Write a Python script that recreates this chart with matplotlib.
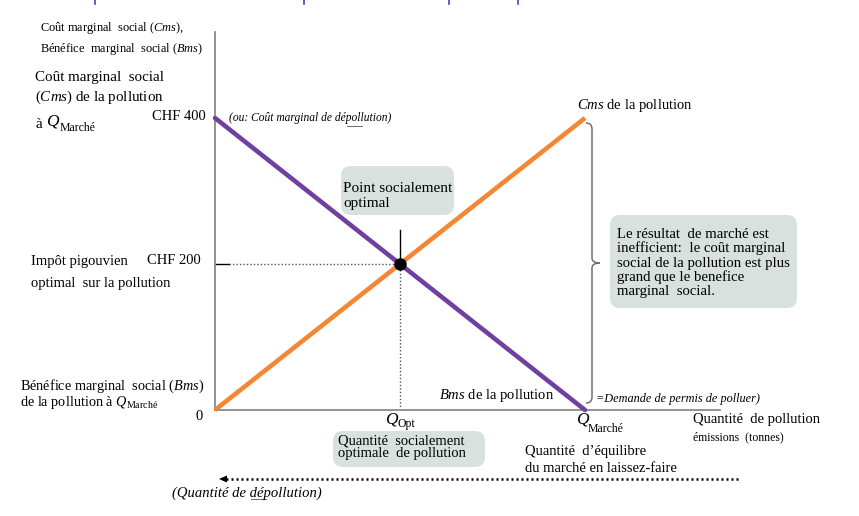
import matplotlib
matplotlib.use("Agg")
import matplotlib.pyplot as plt
from matplotlib.patches import FancyBboxPatch, Polygon
from matplotlib.path import Path
from matplotlib.patches import PathPatch

plt.rcParams['font.family'] = ['Liberation Serif', 'DejaVu Serif']
plt.rcParams['mathtext.fontset'] = 'custom'
plt.rcParams['mathtext.rm'] = 'Liberation Serif'
plt.rcParams['mathtext.it'] = 'Liberation Serif:italic'

# ---- data ----
quantity = [0, 50, 100]          # Q = 0, Q_Opt, Q_Marché
cms_values = [0, 200, 400]       # Coût marginal social (CHF)
bms_values = [400, 200, 0]       # Bénéfice marginal social (CHF)
q_opt = 50
p_opt = 200
y_tick_labels = {400: "CHF 400", 200: "CHF 200", 0: "0"}

PURPLE = "#7040a0"
ORANGE = "#f58634"
BOXC = "#d9e1df"
W, H = 859, 516

fig = plt.figure(figsize=(W / 100, H / 100), dpi=100)

# main axes: pixel 215..720 horizontally, 32..410 vertically
ax = fig.add_axes([215 / W, (H - 410) / H, (720 - 215) / W, (410 - 32) / H])
ax.set_xlim(0, (720 - 215) / 3.7)
ax.set_ylim(0, (410 - 32) / 0.73)
for s in ["top", "right"]:
    ax.spines[s].set_visible(False)
for s in ["left", "bottom"]:
    ax.spines[s].set_color("#8a8a8a")
    ax.spines[s].set_linewidth(1.3)
ax.set_xticks([])
ax.set_yticks([])
ax.patch.set_alpha(0)

ax.plot(quantity, bms_values, color=PURPLE, lw=3.3, solid_capstyle="round", zorder=3, clip_on=False)
ax.plot(quantity, cms_values, color=ORANGE, lw=3.3, solid_capstyle="butt", zorder=3, clip_on=False)
# guide lines
ax.plot([0, 3.8], [p_opt, p_opt], color="black", lw=1.0, zorder=2)
ax.plot([3.8, q_opt], [p_opt, p_opt], color="#555555", lw=1.0, ls=(0, (1, 1.5)), zorder=2)
ax.plot([q_opt, q_opt], [0, p_opt], color="#555555", lw=1.0, ls=(0, (1, 1.5)), zorder=2)
ax.plot([q_opt, q_opt], [p_opt, 247], color="black", lw=1.0, zorder=2)
ax.plot([q_opt], [p_opt], marker="o", color="black", markersize=8, zorder=5)

# overlay axes in pixel coordinates for annotations
ov = fig.add_axes([0, 0, 1, 1])
ov.set_xlim(0, W)
ov.set_ylim(H, 0)
ov.axis("off")
ov.patch.set_alpha(0)


def t(x, y, s, size=10.5, **kw):
    kw.setdefault("ha", "left")
    kw.setdefault("va", "center")
    ov.text(x, y, s, fontsize=size, **kw)


def box(x0, y0, x1, y1):
    r = 10
    ov.add_patch(FancyBboxPatch((x0 + r, y0 + r), (x1 - x0) - 2 * r, (y1 - y0) - 2 * r,
                                boxstyle=f"round,pad={r},rounding_size={r}",
                                fc=BOXC, ec="none", zorder=1))

# faint blue remnants of the title at the top
for bx in [95, 304, 449, 518]:
    ov.plot([bx, bx], [0, 4], color="#3344cc", lw=1.2)

# y-axis title
t(40, 28, r"Coût marginal  social ($\mathit{Cms}$),", size=8.9)
t(40, 49, r"Bénéfice  marginal  social ($\mathit{Bms}$)", size=8.9)

t(35, 78, "Coût marginal  social", size=10.8)
t(35, 97, r"($\mathit{Cms}$) de la pollution", size=10.8)
t(35, 124, "à", size=10.8)
t(46, 121, "Q", size=12.5, style="italic")
t(60, 128, "Marché", size=8.5)

t(206, 117, y_tick_labels[400], size=10.5, ha="right")
t(229, 118, "(ou: Coût marginal de dépollution)", size=8.3, style="italic")
ov.plot([347, 362], [126, 126], color="#555555", lw=0.6)

t(31, 261, "Impôt pigouvien", size=10.5)
t(201, 261, y_tick_labels[200], size=10.5, ha="right")
t(31, 283, "optimal  sur la pollution", size=10.5)

t(20, 394, "Bénéfice marginal  social ($\\mathit{Bms}$)\n"
           "de la pollution à $\\mathit{Q}_{\\mathrm{Marché}}$", size=10.3,
  linespacing=0.9)
t(199, 417, y_tick_labels[0], size=10.5, ha="center")

# callout: optimal point
box(341, 166, 454, 215)
t(343, 189, "Point socialement", size=11)
t(343, 204, "optimal", size=11)

# Cms label
t(577, 105, r"$\mathit{Cms}$ de la pollution", size=10.5)

# brace
verts = [(586, 123), (592, 123), (592, 129), (592, 129),
         (592, 258), (592, 263), (600, 263), (592, 263), (592, 268),
         (592, 397), (592, 397), (592, 403), (586, 403)]
codes = [Path.MOVETO, Path.CURVE3, Path.CURVE3, Path.LINETO,
         Path.LINETO, Path.CURVE3, Path.CURVE3, Path.CURVE3, Path.CURVE3,
         Path.LINETO, Path.LINETO, Path.CURVE3, Path.CURVE3]
ov.add_patch(PathPatch(Path(verts, codes), fc="none", ec="#707070", lw=1.1))

# inefficiency box
box(610, 215, 797, 308)
lines = ["Le résultat  de marché est", "inefficient:  le coût marginal",
         "social de la pollution est plus", "grand que le benefice", "marginal  social."]
for i, s in enumerate(lines):
    t(617, 234 + i * 14.5, s, size=10.6)

t(439, 395, r"$\mathit{Bms}$ de la pollution", size=10.5)
t(596, 399, "=Demande de permis de polluer)", size=8.8, style="italic")

# x-axis labels
t(385, 420, "Q", size=12.5, style="italic")
t(398, 424, "Opt", size=8.5)
t(576, 420, "Q", size=12.5, style="italic")
t(588, 429, "Marché", size=8.5)

t(693, 419, "Quantité  de pollution", size=10.5)
t(693, 437, "émissions  (tonnes)", size=8.5)

box(333, 431, 485, 467)
t(338, 441, "Quantité  socialement", size=10.5)
t(338, 454, "optimale  de pollution", size=10.5)

t(525, 452, "Quantité  d\u2019équilibre", size=10.5)
t(525, 468, "du marché en laissez-faire", size=10.5)

# dotted arrow
ov.plot([226, 738], [479, 479], color="black", lw=1.8, ls=(0, (0.8, 1.2)))
ov.add_patch(Polygon([[219, 479], [227, 475.5], [227, 482.5]], closed=True, fc="black", ec="none"))
t(172, 493, "(Quantité de dépollution)", size=10.5, style="italic")
ov.plot([251, 266], [499, 499], color="#777777", lw=0.8)

fig.savefig("out.png", dpi=100)
